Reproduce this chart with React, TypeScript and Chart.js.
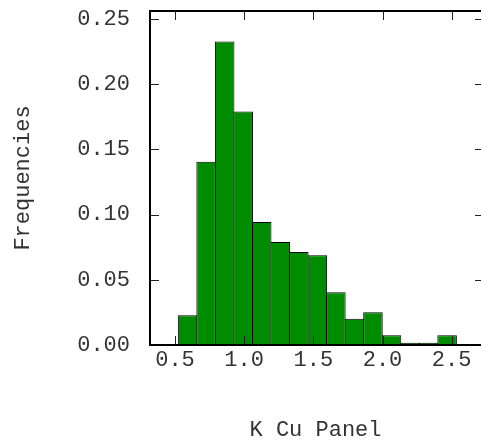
import React, { useEffect, useRef } from "react";
import { Chart, registerables } from "chart.js";

Chart.register(...registerables);

const binStart = 0.524;
const binWidth = 0.134;
const frequencies = [
  0.0228, 0.1406, 0.2329, 0.1792, 0.0943, 0.079, 0.0713, 0.0688, 0.0404,
  0.0202, 0.0251, 0.0074, 0.0018, 0.0018, 0.0074,
];
const xLabel = "K Cu Panel";
const yLabel = "Frequencies";
const xRange = [0.3193, 2.712];
const yRange = [0, 0.2562];
const xStep = 0.5;
const yStep = 0.05;

const FONT = "'Liberation Mono', 'Courier New', monospace";

const framePlugin = {
  id: "frame",
  afterDatasetsDraw(chart: any) {
    const { ctx, chartArea } = chart;
    const { left, right, top, bottom } = chartArea;
    const xs = chart.scales.x;
    const ys = chart.scales.y;
    const tl = 9;
    const tr = 6;
    ctx.save();
    ctx.strokeStyle = "#222";
    ctx.lineWidth = 1;
    ctx.beginPath();
    xs.ticks.forEach((t: any) => {
      const px = Math.round(xs.getPixelForValue(t.value)) + 0.5;
      ctx.moveTo(px, bottom);
      ctx.lineTo(px, bottom - tl);
      ctx.moveTo(px, top);
      ctx.lineTo(px, top + tl);
    });
    ys.ticks.forEach((t: any) => {
      const py = Math.round(ys.getPixelForValue(t.value)) + 0.5;
      ctx.moveTo(left, py);
      ctx.lineTo(left + tl, py);
      ctx.moveTo(right, py);
      ctx.lineTo(right - tr, py);
    });
    ctx.stroke();
    ctx.strokeStyle = "#000";
    ctx.lineWidth = 2;
    ctx.beginPath();
    ctx.moveTo(right, top);
    ctx.lineTo(left, top);
    ctx.lineTo(left, bottom);
    ctx.lineTo(right, bottom);
    ctx.stroke();
    ctx.restore();
  },
};

export default function App() {
  const ref = useRef<HTMLCanvasElement>(null);
  useEffect(() => {
    if (!ref.current) return;
    const data = frequencies.map((f, i) => ({
      x: binStart + binWidth * (i + 0.5),
      y: f,
    }));
    const chart = new Chart(ref.current, {
      type: "bar",
      data: {
        datasets: [
          {
            data: data as any,
            backgroundColor: "#008C00",
            borderColor: "#000",
            borderWidth: 1,
            borderSkipped: "bottom",
            barPercentage: 1.054,
            categoryPercentage: 1,
            inflateAmount: 0,
          } as any,
        ],
      },
      options: {
        animation: false,
        responsive: false,
        devicePixelRatio: 1,
        layout: { padding: { top: 11, right: 0, left: 0, bottom: 0 } },
        plugins: { legend: { display: false }, tooltip: { enabled: false } },
        scales: {
          x: {
            type: "linear",
            min: xRange[0],
            max: xRange[1],
            offset: false,
            grid: { display: false, drawTicks: false },
            border: { display: false },
            ticks: {
              stepSize: xStep,
              includeBounds: false,
              padding: 2,
              maxRotation: 0,
              autoSkip: false,
              color: "#333",
              font: { family: FONT, size: 22 },
              callback: (v: any) => Number(v).toFixed(1),
            },
            title: {
              display: true,
              text: xLabel,
              color: "#333",
              font: { family: FONT, size: 22 },
              padding: { top: 0, bottom: 0 },
            },
            afterFit: (s: any) => {
              s.height = 98;
              s.paddingLeft = 0;
              s.paddingRight = 0;
            },
          },
          y: {
            min: yRange[0],
            max: yRange[1],
            grid: { display: false, drawTicks: false },
            border: { display: false },
            ticks: {
              stepSize: yStep,
              includeBounds: false,
              padding: 20,
              color: "#333",
              font: { family: FONT, size: 22 },
              callback: (v: any) => Number(v).toFixed(2),
            },
            title: {
              display: true,
              text: yLabel,
              color: "#333",
              font: { family: FONT, size: 22 },
              padding: { top: 10, bottom: 0 },
            },
            afterFit: (s: any) => {
              s.width = 150;
              s.paddingTop = 0;
              s.paddingBottom = 0;
            },
          },
        },
      },
      plugins: [framePlugin],
    });
    return () => chart.destroy();
  }, []);
  return (
    <div style={{ position: "fixed", left: 0, top: 0, width: 481, height: 443, background: "#fff" }}>
      <canvas ref={ref} width={481} height={443} style={{ display: "block" }} />
    </div>
  );
}
